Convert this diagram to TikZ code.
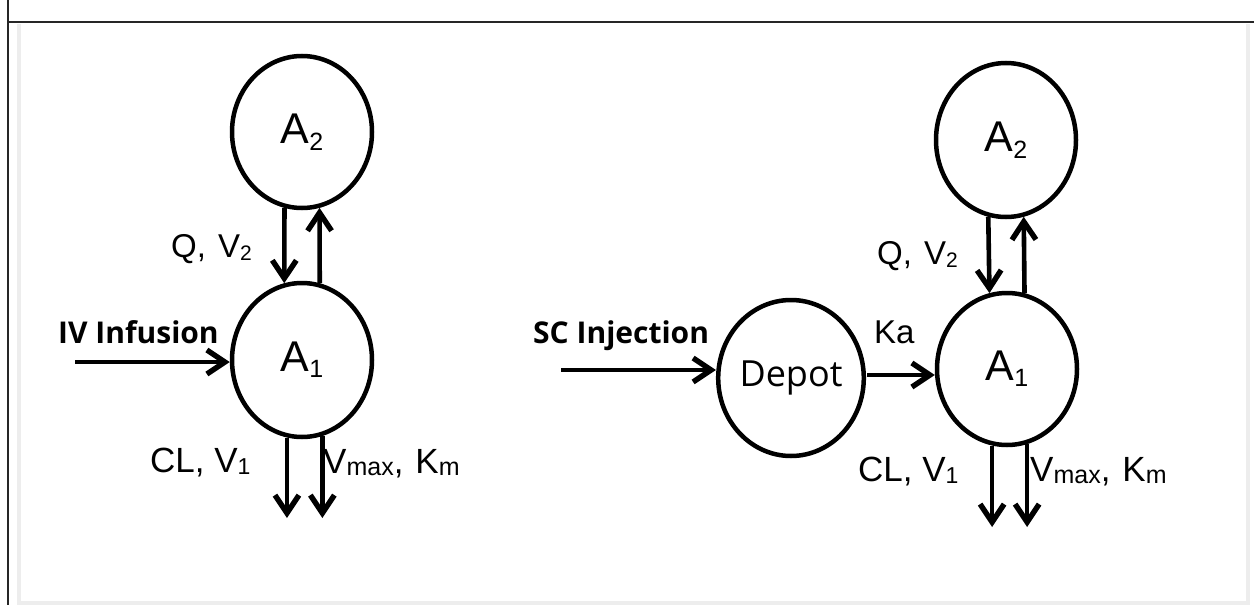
\documentclass[tikz,border=0pt]{standalone}
\usepackage{fontspec}
\setmainfont{Liberation Sans}
\newfontfamily\opensans{Open Sans}
\usetikzlibrary{arrows.meta,shapes.geometric}
\newcommand\mysub[3]{{\fontsize{#1}{#1}\selectfont\raisebox{-#2}{#3}}}
\newcommand\fs[1]{\fontsize{#1}{#1}\selectfont}
\begin{document}
\begin{tikzpicture}[x=1pt,y=-1pt,
  comp/.style={ellipse,draw,line width=4.5pt,inner sep=0pt,minimum width=140pt,minimum height=#1},
  arr/.style={line width=4.6pt,-{Straight Barb[length=18pt,width=24pt,line width=5.4pt]}},
  lbl/.style={inner sep=0pt,anchor=base west},
]
\useasboundingbox (0,0) rectangle (1254,605);
\fill[white] (0,0) rectangle (1254,605);
\draw[black!7,line width=4pt] (19,24) -- (19,603) -- (1248,603) -- (1248,24);
\draw[black!85,line width=2pt] (8,0) -- (8,605);
\draw[black!85,line width=2pt] (8,21.5) -- (1254,21.5);

% ---------- left model ----------
\node[comp=152pt] (LA2) at (302,132) {\fs{43}A\mysub{25}{7pt}{2}};
\node[comp=154pt] (LA1) at (302,360) {\fs{43}A\mysub{25}{6pt}{1}};
\draw[arr] (LA2.257) -- (LA1.103);
\draw[arr] (LA1.77) -- (LA2.283);
\coordinate (ivS) at (75,362);
\draw[arr] (ivS) -- (ivS -| LA1.west);
\coordinate (Lend) at (0,518);
\draw[arr] (LA1.259) -- (LA1.259 |- Lend);
\draw[arr] (LA1.285) -- (LA1.285 |- Lend);
\node[lbl] (lq) at (171,257) {\fs{33}Q,\hspace{12pt}V\mysub{21}{3pt}{2}};
\node[lbl] (liv) at (58,343) {\opensans\bfseries\fs{30}IV Infusion};
\node[lbl] (lcl) at (150,472) {\fs{35}CL, V\mysub{23}{2pt}{1}};
\node[lbl] (lvm) at (323,473) {\fs{35}V\mysub{25}{2pt}{max},\hspace{12pt}K\mysub{25}{2pt}{m}};

% ---------- right model ----------
\node[comp=154pt] (RA2) at (1006,140) {\fs{43}A\mysub{25}{7pt}{2}};
\node[comp=152pt] (RA1) at (1007,369) {\fs{43}A\mysub{25}{6pt}{1}};
\node[comp=156pt] (Dep) at (791,378) {\opensans\fs{36}Depot\hspace{22pt}};
\draw[arr] (RA2.257) -- (RA1.103);
\draw[arr] (RA1.77) -- (RA2.283);
\coordinate (scS) at (561,370);
\draw[arr] (scS) -- (scS -| Dep.west);
\coordinate (kaS) at (867,375);
\draw[arr] (kaS) -- (kaS -| RA1.west);
\coordinate (Rend) at (0,527);
\draw[arr] (RA1.259) -- (RA1.259 |- Rend);
\draw[arr] (RA1.285) -- (RA1.285 |- Rend);
\node[lbl] (rq) at (877,264) {\fs{33}Q,\hspace{12pt}V\mysub{21}{3pt}{2}};
\node[lbl] (rsc) at (533,343) {\opensans\bfseries\fs{30}SC Injection};
\node[lbl] (rka) at (874,343) {\fs{33}Ka};
\node[lbl] (rcl) at (858,481) {\fs{35}CL, V\mysub{23}{2pt}{1}};
\node[lbl] (rvm) at (1030,481) {\fs{35}V\mysub{25}{2pt}{max},\hspace{12pt}K\mysub{25}{2pt}{m}};
\end{tikzpicture}
\end{document}
